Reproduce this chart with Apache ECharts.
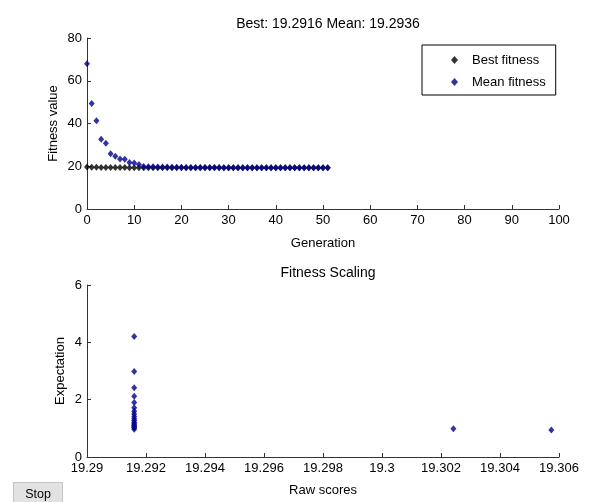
<!DOCTYPE html>
<html>
<head>
<meta charset="utf-8">
<script src="https://cdn.jsdelivr.net/npm/echarts@6/dist/echarts.min.js"></script>
<style>
html,body{margin:0;padding:0;background:#fff;}
#c{width:589px;height:502px;}
</style>
</head>
<body>
<div id="c"></div>
<script>
var generations = [0,1,2,3,4,5,6,7,8,9,10,11,12,13,14,15,16,17,18,19,20,21,22,23,24,25,26,27,28,29,30,31,32,33,34,35,36,37,38,39,40,41,42,43,44,45,46,47,48,49,50,51];
var bestFitness = [19.62,19.56,19.50,19.46,19.43,19.41,19.39,19.37,19.36,19.35,19.34,19.33,19.325,19.32,19.316,19.313,19.31,19.308,19.306,19.304,19.303,19.302,19.301,19.300,19.299,19.298,19.297,19.2965,19.296,19.2955,19.295,19.2945,19.294,19.2937,19.2934,19.2931,19.2929,19.2927,19.2925,19.2923,19.2922,19.2921,19.292,19.2919,19.2918,19.2918,19.2917,19.2917,19.2917,19.2916,19.2916,19.2916];
var meanFitness = [68.0,49.4,41.3,32.6,30.8,25.9,24.7,23.4,23.3,21.8,21.5,20.8,19.9,19.8,19.75,19.7,19.65,19.6,19.56,19.52,19.49,19.46,19.44,19.42,19.40,19.39,19.38,19.37,19.36,19.35,19.345,19.34,19.335,19.33,19.325,19.32,19.316,19.313,19.31,19.307,19.305,19.303,19.301,19.3,19.299,19.298,19.297,19.296,19.2955,19.295,19.294,19.2936];
var rawScores = [19.2916,19.2916,19.2916,19.2916,19.2916,19.2916,19.2916,19.2916,19.2916,19.2916,19.2916,19.2916,19.2916,19.2916,19.2916,19.2916,19.2916,19.2916,19.30242,19.30574];
var expectation = [4.2,2.98,2.42,2.12,1.9,1.72,1.6,1.5,1.41,1.33,1.27,1.21,1.16,1.12,1.08,1.05,1.02,0.97,0.985,0.94];
var xTicksTop = [0,100,10];
var yTicksTop = [0,80,20];
var xTicksBottom = [19.29,19.306,0.002];
var yTicksBottom = [0,6,2];

var FONT = '"Liberation Sans",Arial,sans-serif';
var AX = '#333';
var BLUE = '#00008c';
function axisCommon(){
  return {
    axisLine:{show:true,onZero:false,lineStyle:{color:AX,width:1}},
    axisTick:{show:true,inside:true,length:4,lineStyle:{color:AX}},
    splitLine:{show:false},
    nameMoveOverlap:false,
    nameTextStyle:{color:'#000',fontFamily:FONT,fontSize:13}
  };
}
function merge(a,b){for(var k in b)a[k]=b[k];return a;}
var tickLabel = {color:'#000',fontFamily:FONT,fontSize:13,margin:5};

var chart = echarts.init(document.getElementById('c'),null,{renderer:'canvas'});
var option = {
  backgroundColor:'#fff',
  animation:false,
  title:[
    {text:'Best: 19.2916 Mean: 19.2936',left:323,top:12,textAlign:'center',textStyle:{fontFamily:FONT,fontSize:14,fontWeight:'normal',color:'#000'}},
    {text:'Fitness Scaling',left:323,top:261,textAlign:'center',textStyle:{fontFamily:FONT,fontSize:14,fontWeight:'normal',color:'#000'}}
  ],
  legend:{
    show:true,orient:'vertical',left:422,top:45,
    padding:[8,10,6,29],
    backgroundColor:'#fff',borderColor:'#000',borderWidth:1,borderRadius:0,
    itemWidth:7,itemHeight:8,itemGap:8,
    data:[{name:'Best fitness',icon:'diamond'},{name:'Mean fitness',icon:'diamond'}],
    textStyle:{fontFamily:FONT,fontSize:13,lineHeight:14,color:'#000',padding:[0,0,0,9]}
  },
  grid:[
    {left:87,top:38,width:472,height:171},
    {left:87,top:285,width:472,height:172}
  ],
  xAxis:[
    merge(axisCommon(),{gridIndex:0,type:'value',min:xTicksTop[0],max:xTicksTop[1],interval:xTicksTop[2],name:'Generation',nameLocation:'middle',nameGap:28,
      axisLabel:tickLabel}),
    merge(axisCommon(),{gridIndex:1,type:'value',min:xTicksBottom[0],max:xTicksBottom[1],interval:xTicksBottom[2],name:'Raw scores',nameLocation:'middle',nameGap:27,
      axisLabel:merge(merge({},tickLabel),{formatter:function(v){return String(+v.toFixed(3));}})})
  ],
  yAxis:[
    merge(axisCommon(),{gridIndex:0,type:'value',min:yTicksTop[0],max:yTicksTop[1],interval:yTicksTop[2],name:'Fitness value',nameLocation:'middle',nameGap:27,
      axisLabel:tickLabel}),
    merge(axisCommon(),{gridIndex:1,type:'value',min:yTicksBottom[0],max:yTicksBottom[1],interval:yTicksBottom[2],name:'Expectation',nameLocation:'middle',nameGap:20,
      axisLabel:tickLabel})
  ],
  series:[
    {name:'Best fitness',type:'scatter',xAxisIndex:0,yAxisIndex:0,symbol:'diamond',symbolSize:[6,7],
      itemStyle:{color:'#000'},data:generations.map(function(g,i){return [g,bestFitness[i]];})},
    {name:'Mean fitness',type:'scatter',xAxisIndex:0,yAxisIndex:0,symbol:'diamond',symbolSize:[6,7],
      itemStyle:{color:BLUE},data:generations.map(function(g,i){return [g,meanFitness[i]];})},
    {name:'Scaling',type:'scatter',xAxisIndex:1,yAxisIndex:1,symbol:'diamond',symbolSize:[6,7],
      itemStyle:{color:BLUE},data:rawScores.map(function(r,i){return [r,expectation[i]];})}
  ],
  graphic:[
    {type:'group',left:13,top:482,children:[
      {type:'rect',shape:{x:0,y:0,width:49,height:22},style:{fill:'#e2e2e2',stroke:'#c4c4c4',lineWidth:1}},
      {type:'text',style:{x:24.5,y:12.5,text:'Stop',textAlign:'center',textVerticalAlign:'middle',fontFamily:FONT,fontSize:12.5,fill:'#000'}}
    ]}
  ]
};
chart.setOption(option);
</script>
</body>
</html>
